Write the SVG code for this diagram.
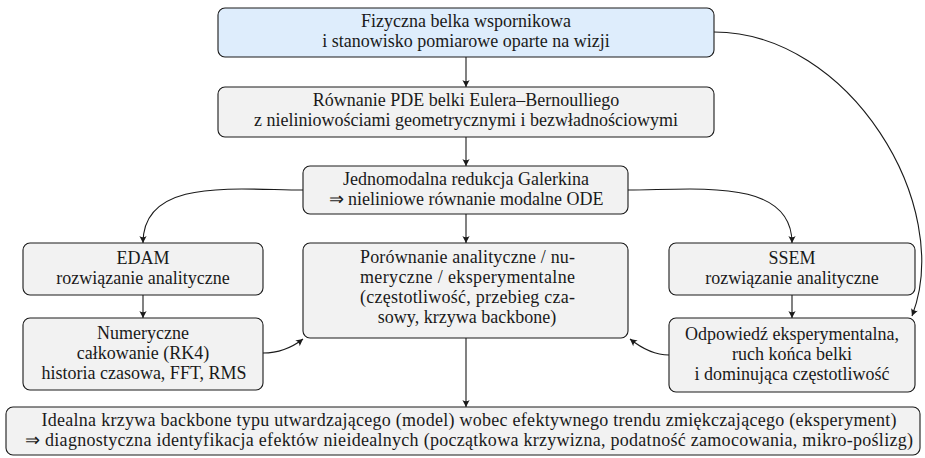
<svg xmlns="http://www.w3.org/2000/svg" width="925" height="458" viewBox="0 0 925 458">
<defs>
<marker id="arr" viewBox="-8 -5 10 10" refX="0" refY="0" markerWidth="10" markerHeight="10" markerUnits="userSpaceOnUse" orient="auto">
<path d="M0,0 L-7,-3.6 Q-4.5,0 -7,3.6 Z" fill="#1a1a1a"/>
</marker>
<style>
.box{fill:#f2f2f2;stroke:#1a1a1a;stroke-width:1.1}
.blue{fill:#deedfc}
text{font-family:'Liberation Serif','Times New Roman',serif;font-size:18px;fill:#1a1a1a;text-anchor:middle}
.edge{fill:none;stroke:#1a1a1a;stroke-width:1.1;marker-end:url(#arr)}
</style>
</defs>
<g id="connectors">
<path class="edge" d="M466,57 V87"/>
<path class="edge" d="M466,137 V166"/>
<path class="edge" d="M466,214 V243"/>
<path class="edge" d="M303,190 C237,190 143,177 143,243"/>
<path class="edge" d="M628,190 C694,190 792,177 792,243"/>
<path class="edge" d="M143,295 V318"/>
<path class="edge" d="M792,295 V318"/>
<path class="edge" d="M263,353 Q285,353 303,339"/>
<path class="edge" d="M669,355 Q650,355 630,339"/>
<path class="edge" d="M466,338 V407"/>
<path class="edge" d="M714,32 C849,32 955,205 912,316"/>
</g>
<g id="n1">
<rect class="box blue" x="218" y="8" width="496" height="49" rx="7"/>
<text x="466" y="27">Fizyczna belka wspornikowa</text>
<text x="466" y="47">i stanowisko pomiarowe oparte na wizji</text>
</g>
<g id="n2">
<rect class="box" x="218" y="87" width="496" height="50" rx="7"/>
<text x="466" y="106">Równanie PDE belki Eulera–Bernoulliego</text>
<text x="466" y="126">z nieliniowościami geometrycznymi i bezwładnościowymi</text>
</g>
<g id="n3">
<rect class="box" x="303" y="166" width="325" height="48" rx="7"/>
<text x="466" y="185">Jednomodalna redukcja Galerkina</text>
<text x="466" y="205">⇒ nieliniowe równanie modalne ODE</text>
</g>
<g id="edam">
<rect class="box" x="23" y="243" width="240" height="52" rx="7"/>
<text x="143" y="264">EDAM</text>
<text x="143" y="284">rozwiązanie analityczne</text>
</g>
<g id="comp">
<rect class="box" x="303" y="243" width="325" height="95" rx="7"/>
<text x="467.5" y="263" textLength="215" lengthAdjust="spacing">Porównanie analityczne / nu-</text>
<text x="467.5" y="283" textLength="215" lengthAdjust="spacing">meryczne / eksperymentalne</text>
<text x="467.5" y="303" textLength="215" lengthAdjust="spacing">(częstotliwość, przebieg cza-</text>
<text x="467" y="323">sowy, krzywa backbone)</text>
</g>
<g id="ssem">
<rect class="box" x="669" y="243" width="246" height="52" rx="7"/>
<text x="792" y="264">SSEM</text>
<text x="792" y="284">rozwiązanie analityczne</text>
</g>
<g id="num">
<rect class="box" x="23" y="318" width="240" height="72" rx="7"/>
<text x="143" y="339">Numeryczne</text>
<text x="143" y="359">całkowanie (RK4)</text>
<text x="144" y="379">historia czasowa, FFT, RMS</text>
</g>
<g id="exp">
<rect class="box" x="669" y="318" width="246" height="74" rx="7"/>
<text x="792" y="340">Odpowiedź eksperymentalna,</text>
<text x="792" y="360">ruch końca belki</text>
<text x="792" y="380">i dominująca częstotliwość</text>
</g>
<g id="result">
<rect class="box" x="6" y="407" width="914" height="48" rx="7"/>
<text x="469" y="426" textLength="855" lengthAdjust="spacing">Idealna krzywa backbone typu utwardzającego (model) wobec efektywnego trendu zmiękczającego (eksperyment)</text>
<text x="469" y="446" textLength="888" lengthAdjust="spacing">⇒ diagnostyczna identyfikacja efektów nieidealnych (początkowa krzywizna, podatność zamocowania, mikro-poślizg)</text>
</g>
</svg>
